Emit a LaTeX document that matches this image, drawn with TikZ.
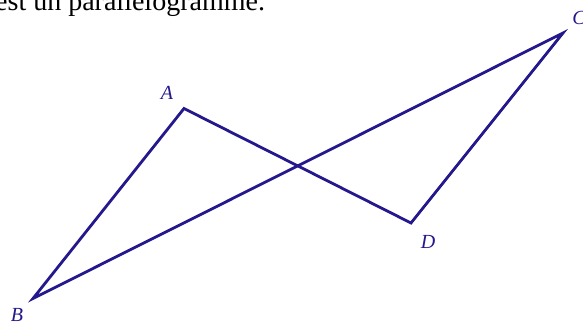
\documentclass[tikz,border=0pt]{standalone}
\usepackage{fontspec}
\setmainfont{Liberation Serif}
\usetikzlibrary{positioning}
\definecolor{encre}{RGB}{36,24,140}

\begin{document}
\begin{tikzpicture}[x=1pt,y=1pt,every node/.style={font=\fontsize{20}{24}\selectfont}]
  \tikzset{
    cote/.style={draw=encre,line width=2.8pt,line join=miter},
    lab/.style={text=encre,font=\fontsize{20}{24}\selectfont\itshape,inner sep=0pt}
  }
  \useasboundingbox (0,0) rectangle (583,323);
  \clip (0,0) rectangle (583,323);
  \node[anchor=base west,inner sep=0pt,font=\fontsize{28}{32}\selectfont] (titre) at (-5,312) {est un parallélogramme.};
  \foreach \name/\x/\y in {A/184/214.5,B/33/24.5,C/563/290,D/411/100}
    \coordinate (\name) at (\x,\y);
  \foreach \name/\txt/\x/\y in {lA/A/167/230,lB/B/17/8,lC/C/579/305,lD/D/428/81}
    \node[lab] (\name) at (\x,\y) {\txt};
  \draw[cote] (B) -- (A) -- (D) -- (C) -- cycle;
\end{tikzpicture}
\end{document}
